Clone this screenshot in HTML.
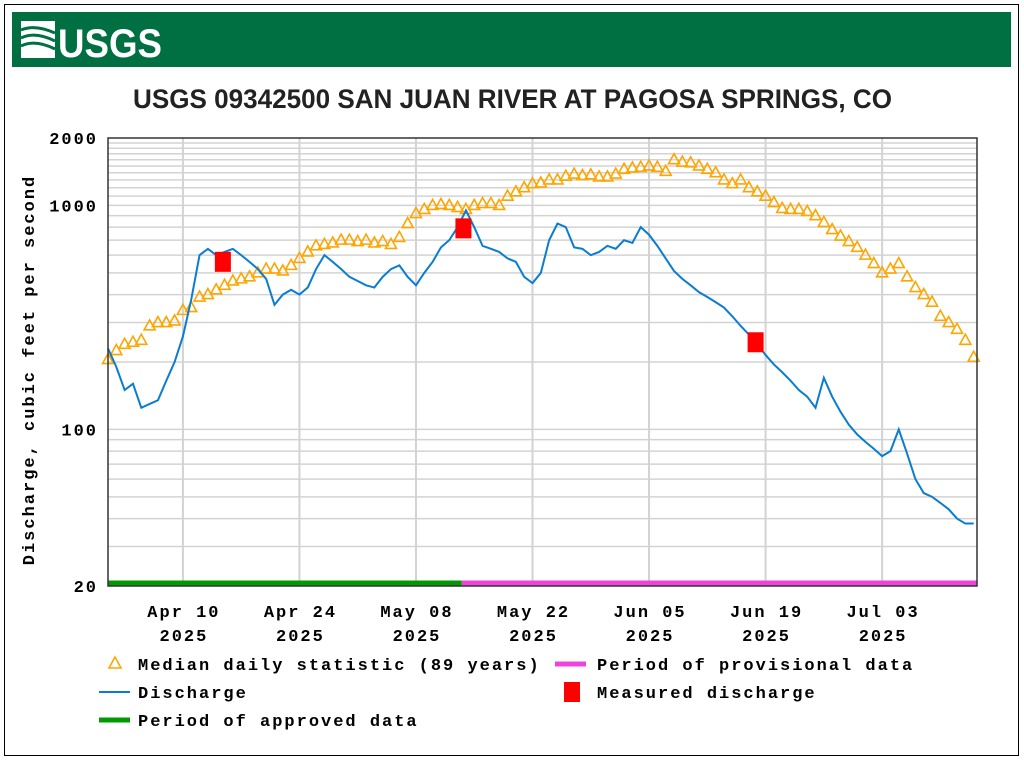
<!DOCTYPE html>
<html><head><meta charset="utf-8"><style>
html,body{margin:0;padding:0;background:#fff}
svg{display:block}
text{font-family:"Liberation Mono",monospace;font-weight:bold;letter-spacing:2px}
</style></head><body>
<svg id="chart" width="1024" height="762" xmlns="http://www.w3.org/2000/svg">
<rect x="4.5" y="4.5" width="1014" height="751" fill="#fff" stroke="#000" stroke-width="1"/>
<rect x="12" y="12" width="999" height="55" fill="#006f41"/>
<g>
<rect x="21" y="21" width="34" height="37" fill="#fff"/>
<path d="M21 30 Q35 24 55 33 M21 38 Q35 31 55 41 M21 46 Q35 39 55 49" stroke="#006f41" stroke-width="3" fill="none"/>
<text x="58" y="57" font-size="40" fill="#fff" textLength="104" lengthAdjust="spacingAndGlyphs" style="font-family:'Liberation Sans',sans-serif;letter-spacing:0">USGS</text>
</g>
<text x="133" y="108" font-size="27" fill="#222" textLength="759" lengthAdjust="spacingAndGlyphs" style="font-family:'Liberation Sans',sans-serif;font-weight:bold;letter-spacing:0">USGS 09342500 SAN JUAN RIVER AT PAGOSA SPRINGS, CO</text>
<g id="grid"></g>
<g id="axes"></g>
<g id="series"></g>
<g id="legend"></g>
</svg>
<script>
const medianValues=[205,225,240,245,250,290,300,300,305,340,350,390,400,420,440,460,470,480,500,520,520,510,540,580,620,660,670,680,700,700,690,700,680,690,670,720,830,920,960,1000,1010,1000,980,960,1000,1020,1020,1000,1100,1150,1200,1250,1260,1300,1300,1350,1380,1360,1370,1340,1340,1380,1450,1470,1480,1500,1480,1420,1600,1560,1550,1500,1450,1400,1300,1250,1300,1200,1150,1100,1030,970,960,960,940,900,840,780,730,690,650,600,550,500,520,550,480,430,400,370,320,300,280,250,210];
const dischargeValues=[230,190,150,160,125,130,135,165,200,260,380,600,640,600,620,640,600,560,520,470,360,400,420,400,430,520,600,560,520,480,460,440,430,480,520,540,480,440,500,560,650,700,800,950,800,660,640,620,580,560,480,450,500,700,830,800,650,640,600,620,660,640,700,680,800,740,660,580,510,470,440,410,390,370,350,320,290,265,240,215,195,180,165,150,140,125,170,140,120,105,95,88,82,76,80,100,78,60,52,50,47,44,40,38,38];
const measuredDays=[13.8,42.7,77.8];
const measuredValues=[560,790,245];
const yTicks=[20,100,1000,2000];
const xTickDays=[9,23,37,51,65,79,93];
const xTickLabels=["Apr 10","Apr 24","May 08","May 22","Jun 05","Jun 19","Jul 03"];
const approvedEndDay=42.5;
const totalDays=104.4;

const L=108,R=977,T=138,B=586;
const NS="http://www.w3.org/2000/svg";
const X=d=>L+(R-L)*d/totalDays;
const Y=v=>T+(Math.log10(2000)-Math.log10(v))/(Math.log10(2000)-Math.log10(20))*(B-T);
function mk(tag,attrs,parent,txt){const e=document.createElementNS(NS,tag);for(const k in attrs)e.setAttribute(k,attrs[k]);if(txt!==undefined)e.textContent=txt;parent.appendChild(e);return e;}
const grid=document.getElementById('grid'),axes=document.getElementById('axes'),series=document.getElementById('series'),legend=document.getElementById('legend');
const gl=[];for(let v=30;v<100;v+=10)gl.push(v);for(let v=100;v<1000;v+=100)gl.push(v);for(let v=1000;v<2000;v+=100)gl.push(v);
gl.forEach(v=>{const l=mk('line',{x1:L,x2:R,y1:Y(v),y2:Y(v),stroke:'#d3d3d3','stroke-width':1.5},grid);

});
xTickDays.forEach((d,i)=>{const l=mk('line',{x1:X(d),x2:X(d),y1:T,y2:B,stroke:'#d3d3d3','stroke-width':2},grid);


const t1=mk('text',{x:X(d)+1,y:617,'text-anchor':'middle','font-size':17,fill:'#000'},axes,xTickLabels[i]);


const t2=mk('text',{x:X(d)+1,y:641,'text-anchor':'middle','font-size':17,fill:'#000'},axes,'2025');

});
yTicks.forEach(v=>{const t=mk('text',{x:98,y:Y(v)+6,'text-anchor':'end','font-size':17,fill:'#000'},axes,String(v));

});
const yt=mk('text',{x:0,y:0,transform:'translate(34,370) rotate(-90)','text-anchor':'middle','font-size':17,fill:'#000'},axes,'Discharge, cubic feet per second');


const ab=mk('line',{x1:L,x2:X(approvedEndDay),y1:583,y2:583,stroke:'#009900','stroke-width':5},series);


const pb=mk('line',{x1:X(approvedEndDay),x2:R,y1:583,y2:583,stroke:'#ee44dd','stroke-width':5},series);


medianValues.forEach((v,i)=>{const x=X(i),y=Y(v);const p=mk('polygon',{points:`${x},${y-6} ${x-5.5},${y+4} ${x+5.5},${y+4}`,fill:'none',stroke:'#ffa500','stroke-width':1.6},series);

});
const dl=mk('polyline',{points:dischargeValues.map((v,i)=>X(i)+','+Y(v)).join(' '),fill:'none',stroke:'#0a7dd0','stroke-width':2},series);


measuredDays.forEach((d,i)=>{const x=X(d),y=Y(measuredValues[i]);const r=mk('rect',{x:x-8,y:y-10,width:16,height:20,fill:'#ff0000'},series);

});
const pf=mk('rect',{x:L,y:T,width:R-L,height:B-T,fill:'none',stroke:'#333','stroke-width':1.5},series);


function lt(x,y,s,name){const t=mk('text',{x:x,y:y,'font-size':17,fill:'#000'},legend,s);}
const lm=mk('polygon',{points:'115,657 109,668 121,668',fill:'none',stroke:'#ffa500','stroke-width':1.6},legend);


lt(138,670,'Median daily statistic (89 years)','legend-median-label');
const lp=mk('line',{x1:555,x2:586,y1:664,y2:664,stroke:'#ee44dd','stroke-width':5},legend);


lt(597,670,'Period of provisional data','legend-provisional-label');
const ld=mk('line',{x1:99,x2:130,y1:692,y2:692,stroke:'#0a7dd0','stroke-width':2},legend);


lt(138,698,'Discharge','legend-discharge-label');
const lr=mk('rect',{x:564,y:682,width:16,height:20,fill:'#ff0000'},legend);


lt(597,698,'Measured discharge','legend-measured-label');
const la=mk('line',{x1:99,x2:130,y1:720,y2:720,stroke:'#009900','stroke-width':5},legend);


lt(138,726,'Period of approved data','legend-approved-label');
</script>
</body></html>
